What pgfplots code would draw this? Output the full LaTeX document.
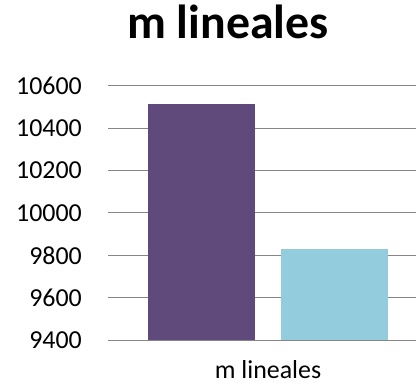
\documentclass[border=0pt]{standalone}
\usepackage{fontspec}
\setmainfont{Carlito}
\usepackage{pgfplots}
\pgfplotsset{compat=1.18}

\definecolor{barpurple}{RGB}{96,74,123}
\definecolor{barblue}{RGB}{147,205,221}
\definecolor{gridgray}{RGB}{134,134,134}

\begin{document}
\begin{tikzpicture}
\path[use as bounding box] (0,0) rectangle (416bp,386bp);
\begin{axis}[
    name=main,
    at={(108bp,46bp)}, anchor=south west,
    scale only axis,
    width=320bp, height=254bp,
    xmin=-0.703, xmax=1.703,
    ymin=9400, ymax=10600,
    ytick={9400,9600,...,10600},
    scaled y ticks=false,
    xtick=\empty,
    ymajorgrids,
    grid style={gridgray, line width=1bp},
    axis line style={draw=none},
    major tick length=0pt,
    /pgf/number format/assume math mode=true,
    /pgf/number format/1000 sep={},
    /pgf/number format/fixed,
    yticklabel style={font=\fontsize{26}{26}\selectfont, anchor=east, inner sep=0pt, xshift=-26bp},
]
\addplot[ybar, bar width=107bp, bar shift=0pt, fill=barpurple, draw=none] coordinates {(0,10515)};
\addplot[ybar, bar width=107bp, bar shift=0pt, fill=barblue, draw=none] coordinates {(1,9830)};
\end{axis}
\node[anchor=base, font=\fontsize{26}{26}\selectfont] at (268bp,8bp) {m lineales};
\node[anchor=base, font=\fontsize{48}{48}\selectfont\bfseries] at (228bp,347bp) {m lineales};
\end{tikzpicture}
\end{document}
